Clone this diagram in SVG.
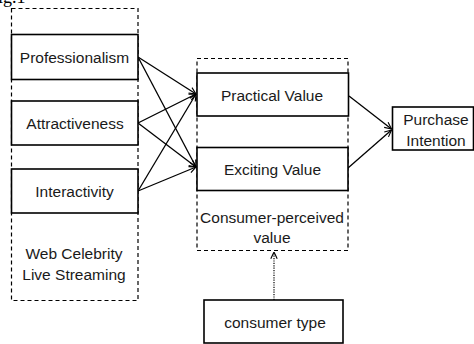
<svg xmlns="http://www.w3.org/2000/svg" width="474" height="344" viewBox="0 0 474 344">
  <style>
    .box { fill: #ffffff; stroke: #000000; stroke-width: 1.6; }
    .group { fill: none; stroke: #000000; stroke-width: 1.2; stroke-dasharray: 4 3; }
    .lbl { font-family: "Liberation Sans", Arial, sans-serif; font-size: 15.5px; fill: #1a1a1a; text-anchor: middle; }
    .cap { font-family: "Liberation Serif", "Times New Roman", serif; font-size: 18px; fill: #000000; }
    .edge { fill: none; stroke: #000000; stroke-width: 1.3; marker-end: url(#open); }
    .dotted { fill: none; stroke: #000000; stroke-width: 1.2; stroke-dasharray: 1.2 1.2; marker-end: url(#open); }
  </style>
  <defs>
    <marker id="open" viewBox="0 0 10 10" refX="9.5" refY="5" markerWidth="8" markerHeight="8" markerUnits="userSpaceOnUse" orient="auto">
      <polyline points="1,1 9.5,5 1,9" fill="none" stroke="#000000" stroke-width="1.4"/>
    </marker>
  </defs>

  <rect width="474" height="344" fill="#ffffff"/>

  <!-- caption line running above the top edge -->
  <text class="cap" x="-12" y="3">Fig.1</text>

  <!-- grouping frames -->
  <g id="live-streaming-group">
    <rect class="group" x="11.5" y="8.5" width="126.5" height="292"/>
    <text class="lbl" x="74" y="259">Web Celebrity</text>
    <text class="lbl" x="74" y="280">Live Streaming</text>
  </g>
  <g id="perceived-value-group">
    <rect class="group" x="197" y="58.5" width="151" height="192"/>
    <text class="lbl" x="272" y="223">Consumer-perceived</text>
    <text class="lbl" x="272" y="243">value</text>
  </g>

  <!-- connectors -->
  <g id="connectors">
    <line class="edge" x1="138" y1="57" x2="196" y2="94"/>
    <line class="edge" x1="138" y1="57" x2="196" y2="167"/>
    <line class="edge" x1="138" y1="123" x2="196" y2="94"/>
    <line class="edge" x1="138" y1="123" x2="196" y2="167"/>
    <line class="edge" x1="138" y1="191" x2="196" y2="94"/>
    <line class="edge" x1="138" y1="191" x2="196" y2="167"/>
    <line class="edge" x1="349" y1="96" x2="391.5" y2="129"/>
    <line class="edge" x1="348" y1="168" x2="391.5" y2="130"/>
    <line class="dotted" x1="274" y1="300" x2="274" y2="252"/>
  </g>

  <!-- nodes -->
  <g id="professionalism">
    <rect class="box" x="11.5" y="34.5" width="126.5" height="45"/>
    <text class="lbl" x="74.5" y="63">Professionalism</text>
  </g>
  <g id="attractiveness">
    <rect class="box" x="11.5" y="101" width="126.5" height="44"/>
    <text class="lbl" x="75" y="129">Attractiveness</text>
  </g>
  <g id="interactivity">
    <rect class="box" x="11.5" y="169" width="126.5" height="44"/>
    <text class="lbl" x="74.5" y="197">Interactivity</text>
  </g>
  <g id="practical-value">
    <rect class="box" x="197" y="73" width="151.5" height="43"/>
    <text class="lbl" x="272" y="101">Practical Value</text>
  </g>
  <g id="exciting-value">
    <rect class="box" x="197" y="147.5" width="151" height="43"/>
    <text class="lbl" x="272.5" y="175">Exciting Value</text>
  </g>
  <g id="purchase-intention">
    <rect class="box" x="392.5" y="107" width="81" height="43"/>
    <text class="lbl" x="436" y="125">Purchase</text>
    <text class="lbl" x="436" y="146">Intention</text>
  </g>
  <g id="consumer-type">
    <rect class="box" x="204" y="300" width="139" height="43"/>
    <text class="lbl" x="275" y="328">consumer type</text>
  </g>
</svg>
